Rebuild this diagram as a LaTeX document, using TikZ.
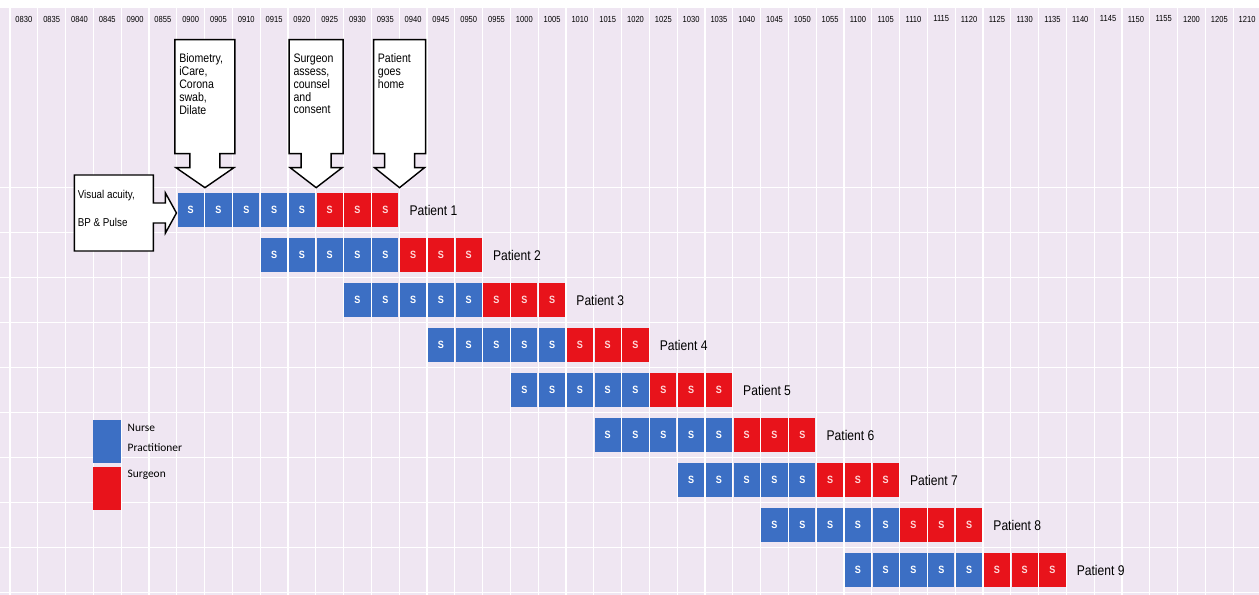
\documentclass[tikz,border=0pt]{standalone}
\usepackage{fontspec}
\setmainfont{Liberation Sans}[FakeStretch=0.86]
\newfontfamily\legendfont{Carlito}
\usetikzlibrary{positioning,calc}
\definecolor{lavender}{HTML}{EFE6F2}
\definecolor{nurseblue}{HTML}{3C6FC4}
\definecolor{surgred}{HTML}{E8131B}

% down-pointing callout: name, tip, half box width, text
\newcommand{\downcallout}[4]{%
  \draw[callout] (#2) -- ++({-(#3-1)},-20) -- ++({#3-16},0) -- ++(0,-14)
    -- ++({-(#3-15)},0) -- ++(0,-114) -- ++({2*#3},0) -- ++(0,114)
    -- ++({-(#3-15)},0) -- ++(0,14) -- ++({#3-16},0) -- cycle;
  \node[calltext] (#1) at ($(#2)+({-#3+4},-134)$) {#4};
}

\begin{document}
\begin{tikzpicture}[x=0.02cm, y=-0.02cm,
  cell/.style={minimum width=0.524cm, minimum height=0.68cm, inner sep=0pt,
    font=\fontsize{6}{6}\selectfont\bfseries, text=white},
  npcell/.style={cell, fill=nurseblue},
  sgcell/.style={cell, fill=surgred, text=white!85!red},
  patlab/.style={font=\fontsize{8}{9}\selectfont, inner sep=1pt},
  timelab/.style={font=\fontsize{5}{5}\selectfont, inner sep=0pt},
  callout/.style={draw=black, fill=white, line width=0.8pt, line join=miter},
  calltext/.style={font=\fontsize{7}{7.3}\selectfont, align=left, inner sep=0pt, anchor=north west},
  legtext/.style={font=\legendfont\fontsize{6.5}{11.3}\selectfont, align=left, inner sep=0pt, anchor=north west}]
  \useasboundingbox (0,0) rectangle (1259,595);

  % Background grid
  \fill[lavender] (0,8) rectangle (1259,595);
  \foreach \i in {0,...,45}
    \draw[white, line width=0.7pt] ({10+\i*27.8},8) -- ({10+\i*27.8},595);
  \foreach \k in {0,...,9}
    \draw[white, line width=0.7pt] (0,{187.5+\k*45}) -- (1259,{187.5+\k*45});

  % Time slots
  \foreach \tm [count=\i from 0] in {0830,0835,0840,0845,0900,0855,0900,0905,0910,0915,
      0920,0925,0930,0935,0940,0945,0950,0955,1000,1005,1010,1015,1020,1025,1030,
      1035,1040,1045,1050,1055,1100,1105,1110,1115,1120,1125,1130,1135,1140,1145,
      1150,1155,1200,1205,1210}
    \node[timelab] (t\i) at ({10+(\i+0.5)*27.8},19) {\tm};

  % Patients
  \foreach \p in {1,...,9} {
    \pgfmathtruncatemacro\first{6+3*(\p-1)}
    \foreach \c in {1,...,8} {
      \pgfmathsetmacro\xc{10+(\first+\c-0.5)*27.8}
      \ifnum\c<6 \def\kind{npcell}\else\def\kind{sgcell}\fi
      \node[\kind] (p\p-\c) at (\xc,{210+(\p-1)*45}) {S};
    }
    \node[patlab, right=5pt of p\p-8] (lab\p) {Patient \p};
  }

  % Callouts
  \coordinate (tipbio) at ($(p1-1.north east)+(0.8,-5)$);
  \coordinate (tipsurg) at ($(p1-5.north east)+(0.8,-5)$);
  \coordinate (tiphome) at ($(p1-8.north east)+(0.8,-5)$);
  \downcallout{bio}{tipbio}{30}{Biometry,\\iCare,\\Corona\\swab,\\Dilate}
  \downcallout{surg}{tipsurg}{27}{Surgeon\\assess,\\counsel\\and\\consent}
  \downcallout{home}{tiphome}{26}{Patient\\goes\\home}

  \coordinate (tipva) at ($(p1-1.west)+(-0.8,3)$);
  \draw[callout] (tipva) -- ++(-11,-20) -- ++(0,10) -- ++(-12,0) -- ++(0,-28)
    -- ++(-79,0) -- ++(0,76) -- ++(79,0) -- ++(0,-28) -- ++(12,0) -- ++(0,10) -- cycle;
  \node[calltext, font=\fontsize{6.5}{16}\selectfont] (va) at ($(tipva)+(-99,-23)$)
    {Visual acuity,\\BP \& Pulse};

  % Legend
  \node[fill=nurseblue, minimum width=0.56cm, minimum height=0.86cm, inner sep=0pt] (legnp) at (107,441.5) {};
  \node[fill=surgred, minimum width=0.56cm, minimum height=0.86cm, inner sep=0pt, below=0.06cm of legnp] (legsg) {};
  \node[legtext] (legnptxt) at ($(legnp.north east)+(6,4)$) {Nurse\\Practitioner};
  \node[legtext] (legsgtxt) at ($(legsg.north east)+(6,3)$) {Surgeon};
\end{tikzpicture}
\end{document}
